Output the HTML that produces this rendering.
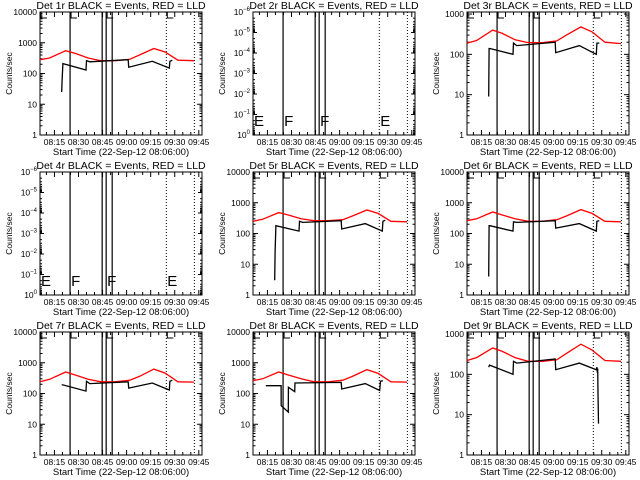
<!DOCTYPE html>
<html><head><meta charset="utf-8"><style>
html,body{margin:0;padding:0;background:#fff;}
svg{display:block;font-family:"Liberation Sans",sans-serif;}
</style></head><body>
<svg id="chart" width="640" height="480" viewBox="0 0 640 480">
<rect width="640" height="480" fill="#fff"/>
</svg>
<script>
const xTickLabels = ["08:15","08:30","08:45","09:00","09:15","09:30","09:45"];
const xTickMinutes = [9,24,39,54,69,84,99];
const solidLines = [18.75,38.75,41.25,45];
const dottedLines = [78.75,96.25];
const markerMinutes = [0,18.75,41.25,78.75];
const markerLetters = ["E","F","F","E"];
const redT = [0,6,16,22,30,38,47,56,62,71,78,86,96];
const red1 = [280,320,550,450,320,260,260,290,400,650,500,270,260];
const red3 = [190,220,400,330,230,195,195,215,300,480,360,200,185];
const red5 = [250,290,480,400,300,260,260,280,370,580,450,250,240];
const red6 = [260,300,500,400,300,250,250,280,370,600,450,250,240];
const red7 = [240,290,500,400,290,240,240,270,360,620,460,240,235];
const red8 = [260,300,500,400,300,240,240,270,360,600,450,240,235];
const red9 = [220,260,450,370,260,210,210,230,330,560,400,220,210];
const blackT = [13.5,13.8,14.3,28.7,29,31,55,55.3,70,80.6,81,82.5];
const black1 = [25,60,210,130,260,240,280,160,250,150,250,270];
const black3 = [9,140,140,100,190,165,200,110,165,100,190,190];
const black5 = [3,25,180,120,250,230,260,140,210,120,250,270];
const black6 = [4,180,180,120,240,230,260,150,210,120,250,260];
const black7 = [190,190,190,120,250,210,240,150,220,130,250,270];
const black8T = [8,17.5,17.6,22,22.1,26,26.2,55,55.3,70,79,79.5,81];
const black8 = [180,180,40,25,160,115,220,230,140,210,125,250,260];
const black9T = [13.5,14,28.7,29,31,55,55.3,70,80.6,81,81.3,81.5,81.7,82];
const black9 = [150,170,100,210,190,240,130,190,130,150,110,140,35,6];

const panels = [
 {n:"1",lo:0,hi:4,red:red1,bt:blackT,bl:black1},
 {n:"2",empty:true},
 {n:"3",lo:0,hi:3.05,red:red3,bt:blackT,bl:black3},
 {n:"4",empty:true},
 {n:"5",lo:0,hi:4,red:red5,bt:blackT,bl:black5},
 {n:"6",lo:0,hi:4,red:red6,bt:blackT,bl:black6},
 {n:"7",lo:0,hi:4,red:red7,bt:blackT,bl:black7},
 {n:"8",lo:0,hi:4,red:red8,bt:black8T,bl:black8},
 {n:"9",lo:0,hi:3.05,red:red9,bt:black9T,bl:black9}
];
const svg = document.getElementById('chart');
const NS = "http://www.w3.org/2000/svg";
function mk(tag, attrs, parent){const e=document.createElementNS(NS,tag);for(const k in attrs)e.setAttribute(k,attrs[k]);parent.appendChild(e);return e;}

panels.forEach((p,i)=>{
  const col=i%3,row=Math.floor(i/3);
  const ox=Math.round(col*213.33), oy=row*160;
  const L=ox+40,R=ox+202,T=oy+12,B=oy+135;
  const g=mk('g',{},svg);
  
  
  const X=m=>L+(m/101)*(R-L);
  let lo,hi;
  if(p.empty){lo=-6;hi=0;} else {lo=p.lo;hi=p.hi;}
  const Y=p.empty?(e=>T+(e-(-6))/6*(B-T)):(v=>B-(Math.log10(v)-lo)/(hi-lo)*(B-T));
  const YE=p.empty?Y:(e=>B-(e-lo)/(hi-lo)*(B-T));
  const t=mk('text',{x:(L+R)/2,y:oy+9,'text-anchor':'middle','font-size':'10.5'},g);
  t.textContent='Det '+p.n+'r BLACK = Events, RED = LLD';
  
  
  const fr=mk('rect',{x:L,y:T,width:R-L,height:B-T,fill:'none',stroke:'#000','stroke-width':1},g);
  
  
  for(let m=4;m<=101;m+=5){
    const major=xTickMinutes.includes(m);const len=major?5:3;
    mk('line',{x1:X(m),x2:X(m),y1:B,y2:B-len,stroke:'#000'},g);
    mk('line',{x1:X(m),x2:X(m),y1:T,y2:T+len,stroke:'#000'},g);
  }
  xTickLabels.forEach((lab,k)=>{
    const tx=mk('text',{x:X(xTickMinutes[k]),y:oy+145,'text-anchor':'middle','font-size':'8.5'},g);
    tx.textContent=lab;
    
    
  });
  const xt=mk('text',{x:(L+R)/2,y:oy+155,'text-anchor':'middle','font-size':'9.5'},g);
  xt.textContent='Start Time (22-Sep-12 08:06:00)';
  
  
  const yt=mk('text',{x:0,y:0,'text-anchor':'middle','font-size':'8.5',transform:'translate('+(ox+12)+','+((T+B)/2)+') rotate(-90)'},g);
  yt.textContent='Counts/sec';
  
  
  if(p.empty){
    for(let e=-6;e<=0;e++){
      const y=Y(e);
      mk('line',{x1:L,x2:L+4,y1:y,y2:y,stroke:'#000'},g);
      mk('line',{x1:R,x2:R-4,y1:y,y2:y,stroke:'#000'},g);
      if(e<0){for(let k=2;k<10;k++){const yy=Y(e+Math.log10(k));mk('line',{x1:L,x2:L+2,y1:yy,y2:yy,stroke:'#000'},g);mk('line',{x1:R,x2:R-2,y1:yy,y2:yy,stroke:'#000'},g);}}
      const lt=mk('text',{x:L-3,y:y+3,'text-anchor':'end','font-size':'8.5'},g);
      lt.textContent='10';
      const sup=mk('tspan',{dy:-4,'font-size':'6'},lt);sup.textContent=e===0?'0':String(e).replace('-','\u2212');
      
      
    }
  } else {
    for(let e=Math.floor(lo);e<=Math.floor(hi);e++){
      const y=YE(e);
      mk('line',{x1:L,x2:L+5,y1:y,y2:y,stroke:'#000'},g);
      mk('line',{x1:R,x2:R-5,y1:y,y2:y,stroke:'#000'},g);
      for(let k=2;k<10;k++){const ev=e+Math.log10(k);if(ev>hi)break;const yy=YE(ev);mk('line',{x1:L,x2:L+2.5,y1:yy,y2:yy,stroke:'#000'},g);mk('line',{x1:R,x2:R-2.5,y1:yy,y2:yy,stroke:'#000'},g);}
      const lt=mk('text',{x:L-3,y:y+3,'text-anchor':'end','font-size':'8.5'},g);
      lt.textContent=String(Math.pow(10,e));
      
      
    }
  }
  solidLines.forEach(m=>{const l=mk('line',{x1:X(m),x2:X(m),y1:T,y2:B,stroke:'#000','stroke-width':1.2},g);});
  dottedLines.forEach(m=>{const l=mk('line',{x1:X(m),x2:X(m),y1:T,y2:B,stroke:'#000','stroke-dasharray':'1,2'},g);});
  markerMinutes.forEach((m,k)=>{
    if(p.empty){
      const tx=mk('text',{x:X(m)+1,y:B-9,'font-size':'15','font-weight':'normal'},g);
      tx.textContent=markerLetters[k];
      
      
    } else {
      const x=X(m)+1;
      const pth=mk('path',{d:'M'+x+' '+(T)+' V'+(T+6)+' H'+(x+6),fill:'none',stroke:'#000'},g);
      
      
    }
  });
  if(!p.empty){
    const rp=redT.map((m,k)=>X(m).toFixed(1)+','+Y(p.red[k]).toFixed(1)).join(' ');
    const rl=mk('polyline',{points:rp,fill:'none',stroke:'#ff0000','stroke-width':1.3},g);
    
    
    const bp=p.bt.map((m,k)=>X(m).toFixed(1)+','+Y(p.bl[k]).toFixed(1)).join(' ');
    const bl=mk('polyline',{points:bp,fill:'none',stroke:'#000','stroke-width':1.3},g);
    
    
  }
});
</script>
</body></html>
